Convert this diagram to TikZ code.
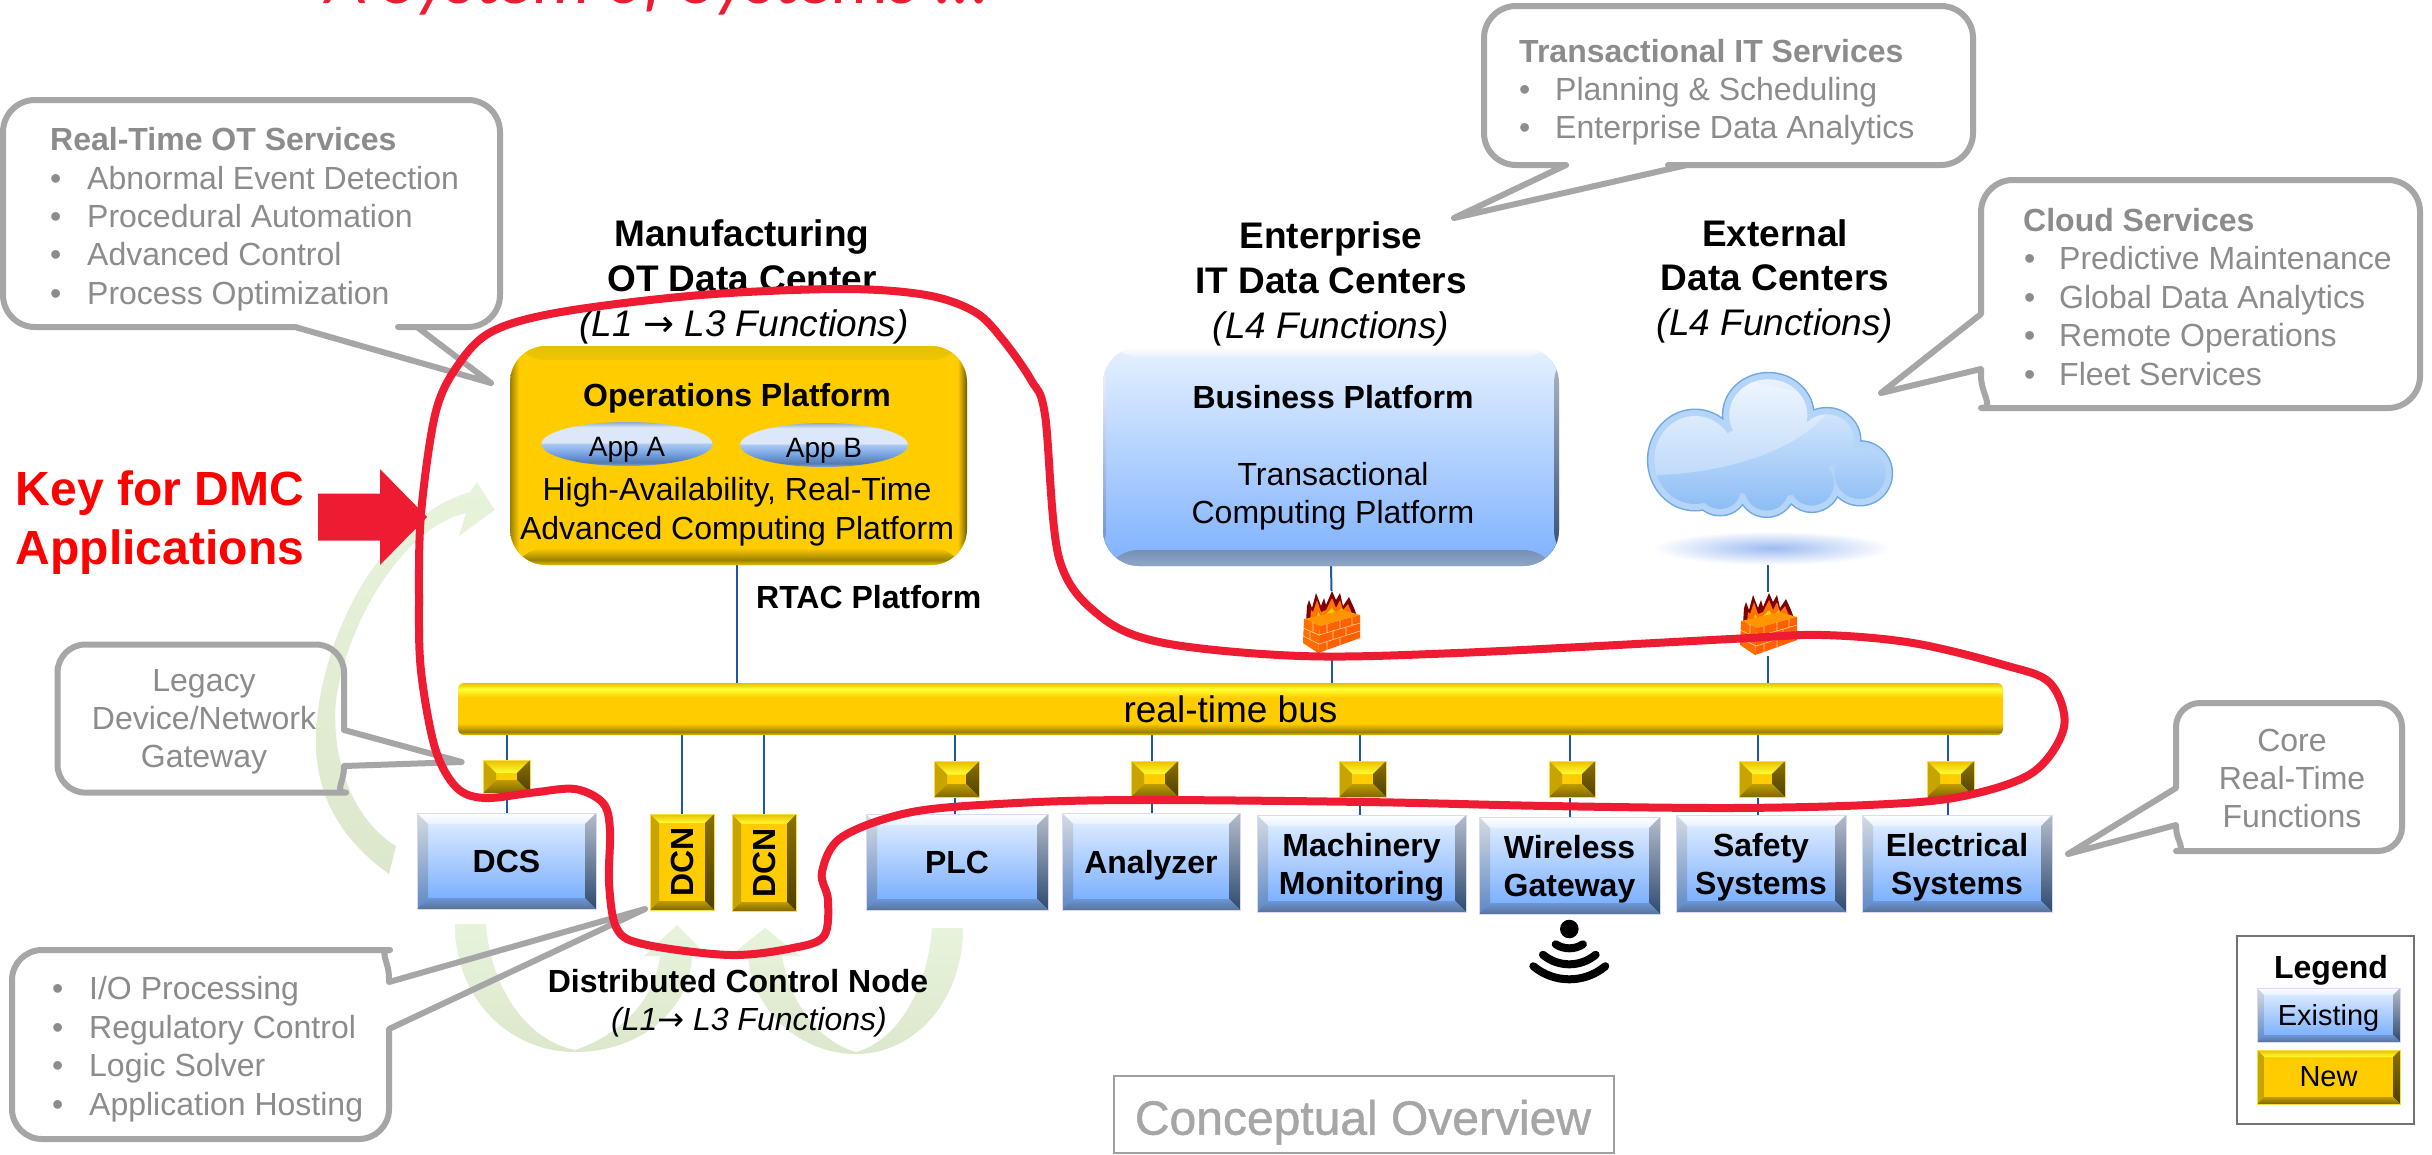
\documentclass[tikz,border=0pt]{standalone}
\usepackage{fontspec}
\setmainfont{Liberation Sans}
\newfontfamily\arwfont{DejaVu Sans}
\newfontfamily\titlefont{Carlito}
\newfontfamily\overfont[FakeBold=1]{Liberation Sans}
\usetikzlibrary{calc,shapes.geometric}
\definecolor{redline}{HTML}{EE1C33}
\definecolor{calloutgray}{HTML}{A6A6A6}
\definecolor{calltext}{HTML}{8C8C8C}
\definecolor{wireblue}{HTML}{1F55A8}
\definecolor{yel}{HTML}{FFCC00}
\definecolor{yelbright}{HTML}{FFFF33}
\definecolor{yeledge}{HTML}{E8BE00}
\definecolor{yeldark}{HTML}{9C8000}
\definecolor{yelbrown}{HTML}{6E5A00}
\definecolor{yelleft}{HTML}{C8A400}
\definecolor{yelrta}{HTML}{8A7000}
\definecolor{yelrtb}{HTML}{4E4000}
\definecolor{yelbta}{HTML}{C09C00}
\definecolor{yelbtb}{HTML}{7F6800}
\definecolor{bluetop}{HTML}{E6F1FF}
\definecolor{bluebot}{HTML}{6FA8FE}
\definecolor{bevlt}{HTML}{D5DAE2}
\definecolor{bevlb}{HTML}{5E88C4}
\definecolor{bevrt}{HTML}{B4BCCB}
\definecolor{bevrb}{HTML}{2E4A70}
\definecolor{bevbt}{HTML}{6A96D8}
\definecolor{bevbb}{HTML}{5A7296}
\definecolor{greenarr}{HTML}{E2ECD5}
\definecolor{greentop}{HTML}{E8F3DC}
\definecolor{greenbot}{HTML}{DCE7CC}
\definecolor{cloudline}{HTML}{70A8E4}
\definecolor{cloudrim}{HTML}{B5D5F8}
\definecolor{cloudt}{HTML}{E8F2FF}
\definecolor{cloudm}{HTML}{CFE3FB}
\definecolor{cloudb}{HTML}{8CBDF5}
\definecolor{shadowblue}{HTML}{9DBBF2}
\pgfdeclareverticalshading{busshade}{100bp}{color(0bp)=(yeledge); color(25bp)=(yeledge); color(28bp)=(yeldark); color(36bp)=(yel); color(61bp)=(yel); color(69bp)=(yelbright); color(75bp)=(yeledge); color(100bp)=(yeledge)}
\pgfdeclarehorizontalshading{yelside}{100bp}{color(0bp)=(yeldark); color(25bp)=(yeldark); color(26bp)=(yel); color(74bp)=(yel); color(75bp)=(yelbrown); color(100bp)=(yelbrown)}
\pgfdeclareverticalshading{yeltop}{100bp}{color(0bp)=(yel); color(25bp)=(yel); color(52bp)=(yelbright); color(75bp)=(yeledge); color(100bp)=(yeledge)}
\pgfdeclareverticalshading{yelbot}{100bp}{color(0bp)=(yeledge); color(25bp)=(yeledge); color(40bp)=(yeldark); color(75bp)=(yel); color(100bp)=(yel)}
\definecolor{bluee1}{HTML}{8FA6C8}
\definecolor{bluee2}{HTML}{4E6C9A}
\definecolor{bluee3}{HTML}{7DB0FF}
\pgfdeclareverticalshading{blubot}{100bp}{color(0bp)=(bluee1); color(25bp)=(bluee1); color(34bp)=(bluee2); color(75bp)=(bluee3); color(100bp)=(bluee3)}
\definecolor{ap0}{HTML}{8FA9CF}
\definecolor{ap1}{HTML}{527AB2}
\definecolor{ap2}{HTML}{7BA6E4}
\definecolor{ap3}{HTML}{A9C8F2}
\definecolor{ap4}{HTML}{DCE8FA}
\pgfdeclareverticalshading{appshade}{100bp}{color(0bp)=(ap0); color(25bp)=(ap0); color(29bp)=(ap1); color(40bp)=(ap2); color(50bp)=(ap3); color(52bp)=(ap4); color(69bp)=(ap4); color(75bp)=(ap0); color(100bp)=(ap0)}
\pgfdeclarelayer{bg}
\pgfdeclarelayer{wires}
\pgfdeclarelayer{top}
\pgfsetlayers{bg,wires,main,top}
% bevels, drawn inside a node's path picture
\newcommand\bevelset[9]{%
  \coordinate (NW) at (path picture bounding box.north west);
  \coordinate (NE) at (path picture bounding box.north east);
  \coordinate (SW) at (path picture bounding box.south west);
  \coordinate (SE) at (path picture bounding box.south east);
  \coordinate (iNW) at ($(NW)+(#1pt,-#1pt)$);
  \coordinate (iNE) at ($(NE)+(-#1pt,-#1pt)$);
  \coordinate (iSW) at ($(SW)+(#1pt,#1pt)$);
  \coordinate (iSE) at ($(SE)+(-#1pt,#1pt)$);
  \shade[top color=#2,bottom color=#3] (NW)--(NE)--(iNE)--(iNW)--cycle;
  \shade[top color=#4,bottom color=#5] (NW)--(iNW)--(iSW)--(SW)--cycle;
  \shade[top color=#6,bottom color=#7] (NE)--(iNE)--(iSE)--(SE)--cycle;
  \shade[top color=#8,bottom color=#9] (iSW)--(iSE)--(SE)--(SW)--cycle;
}
\tikzset{
  bluebox/.style={rectangle,inner sep=0pt,align=center,draw=blue!15!white,line width=1pt,
    top color=bluetop,bottom color=bluebot,font=\fontsize{32}{38}\selectfont\bfseries,text depth=0pt,
    path picture={\bevelset{#1}{white}{bluetop}{bevlt}{bevlb}{bevrt}{bevrb}{bevbt}{bevbb}}},
  yellowbox/.style={rectangle,inner sep=0pt,align=center,draw=yel!70!white,line width=1pt,
    fill=yel,font=\fontsize{32}{38}\selectfont\bfseries,
    path picture={\bevelset{#1}{yeledge}{yelbright}{yelleft}{yelleft}{yelrta}{yelrtb}{yelbta}{yelbtb}}},
  wire/.style={draw=wireblue,line width=2pt},
  callout/.style={draw=calloutgray,line width=6pt,line join=round},
  redloop/.style={draw=redline,line width=8pt,line cap=round,line join=round},
  greenfill/.style={top color=greentop,bottom color=greenbot,draw=none},
  sm/.style={inner sep=0pt,anchor=mid west,yshift=-9pt,text=calltext,font=\fontsize{32}{38}\selectfont},
  smb/.style={sm,font=\fontsize{32}{38}\selectfont\bfseries},
  ctr/.style={inner sep=0pt,anchor=center,text=calltext,font=\fontsize{32}{38}\selectfont},
  head/.style={inner sep=0pt,anchor=mid,yshift=-11pt,text=black,font=\fontsize{37}{44}\selectfont\bfseries},
  headi/.style={inner sep=0pt,anchor=mid,yshift=-11pt,text=black,font=\fontsize{37}{44}\selectfont\itshape},
  plain/.style={inner sep=0pt,anchor=mid,yshift=-9pt,text=black,font=\fontsize{32}{38}\selectfont},
  plainb/.style={plain,font=\fontsize{32}{38}\selectfont\bfseries},
  keytext/.style={inner sep=0pt,anchor=mid,yshift=-16pt,text=red,font=\fontsize{48}{58}\selectfont\bfseries},
  fwnode/.style={rectangle,inner sep=0pt,minimum width=57pt,minimum height=63pt,draw=none},
  appell/.style={ellipse,inner sep=0pt,shading=appshade,draw=none},
}
\newcommand\BX[7]{%
  \pgfmathsetmacro\bxw{#4-#2}\pgfmathsetmacro\bxh{#5-#3}%
  \pgfmathsetmacro\bxx{(#2+#4)/2}\pgfmathsetmacro\bxy{(#3+#5)/2}%
  \node[#6,minimum width=\bxw pt,minimum height=\bxh pt] (#1) at (\bxx,\bxy) {#7};}
\newcommand\BUL[5]{%
  \node[sm] (#1b) at (#2,#4) {•};
  \node[sm] (#1) at (#3,#4) {#5};}
\newcommand\WIREVIA[3]{%
  \draw[wire] ([xshift=#3pt]#1.north |- bus.south) -- ([xshift=#3pt]#1.south |- #2.north);}
\newcommand\FIREWALL[2]{%
  \begin{scope}[shift={(#1,#2)}]
    \fill[gray!12] (40,102) -- (84,87) -- (78,84) -- cycle;
    \fill[black!10!red!55!black] (26,72) -- (27,56) -- (29,50) -- (32,58) -- (36,43) -- (41,56) -- (44,48) -- (46,55) -- (52,41) -- (56,50) -- (60,43) -- (63,56) -- (69,47) -- (74,58) -- (77,66) -- cycle;
    \fill[orange!90!red] (30,72) -- (31,60) -- (33,62) -- (37,50) -- (41,62) -- (46,60) -- (52,48) -- (56,58) -- (60,50) -- (63,60) -- (68,54) -- (73,66) -- cycle;
    \fill[yellow!70!orange] (36,72) -- (38,62) -- (42,68) -- (52,58) -- (56,64) -- (62,58) -- (66,68) -- cycle;
    \fill[orange!70!yellow!90!red] (24,69) -- (63,60) -- (80,65) -- (40,76) -- cycle;
    \fill[orange!85!red] (24,69) -- (40,76) -- (38,103) -- (23,93) -- cycle;
    \fill[orange!75!red] (40,76) -- (80,65) -- (80,88) -- (38,103) -- cycle;
    \draw[orange!35!white,line width=.6pt] (23,78) -- (39,85) -- (80,73) (23,86) -- (39,94) -- (80,81)
      (47,74) -- (47,83) (60,70) -- (60,79) (72,67) -- (72,75) (53,80) -- (53,89) (66,77) -- (66,85)
      (33,72) -- (33,81) (30,82) -- (30,90) (47,92) -- (47,100) (60,88) -- (60,95);
  \end{scope}}
\newcommand\CLOUDPATH[1]{%
  (1768.3,415) ellipse [x radius=45-#1,y radius=41.7-#1]
  (1695,460) ellipse [x radius=46.7-#1,y radius=50-#1]
  (1826.7,440) ellipse [x radius=33.3-#1,y radius=31.7-#1]
  (1860,473.3) ellipse [x radius=31.7-#1,y radius=31.7-#1]
  (1766.7,488.3) ellipse [x radius=28.3-#1,y radius=28.3-#1]
  (1811.7,483.3) ellipse [x radius=28.3-#1,y radius=28.3-#1]
  (1720,490) ellipse [x radius=26.7-#1,y radius=25-#1]
  (1770,460) ellipse [x radius=66.7-#1,y radius=43.3-#1]}
\begin{document}
\begin{tikzpicture}[x=1pt,y=-1pt]
\useasboundingbox (0,0) rectangle (2432,1154);

% title (cropped by the page)
\node[inner sep=0pt,anchor=base west,text=redline,font=\fontsize{72.5}{80}\selectfont\titlefont\itshape] (title) at (325,3) {A System of Systems ...};

% green process arrows
\begin{pgfonlayer}{bg}
\fill[white] (0,0) rectangle (2432,1154);
\shade[greenfill] (389,874) .. controls (335,835) and (316,790) .. (316,741) .. controls (316,650) and (375,520) .. (470,492) -- (477,482) -- (494.6,510) -- (459,536) -- (466,513) .. controls (410,525) and (350,610) .. (336,700) .. controls (330,770) and (360,825) .. (396,846) -- cycle;
\shade[greenfill] (455,924) -- (486,924) .. controls (490,985) and (525,1040) .. (575,1050) .. controls (620,1035) and (655,1000) .. (660,956) -- (644,956) -- (677,925) -- (708,956) -- (692,956) .. controls (690,1010) and (640,1052) .. (575,1052) .. controls (510,1052) and (455,1000) .. (455,924) -- cycle;
\shade[greenfill] (963,928) -- (932,928) .. controls (928,985) and (900,1040) .. (856,1052) .. controls (815,1040) and (790,1000) .. (782,956) -- (800,956) -- (765,928) -- (730,956) -- (748,956) .. controls (752,1010) and (800,1054) .. (856,1054) .. controls (915,1054) and (963,1000) .. (963,928) -- cycle;
\end{pgfonlayer}

% callouts
\draw[callout] (250,100) [rounded corners=32pt] -- (500,100) -- (500,327) -- (430,327) [sharp corners] -- (417,327) -- (491,383) -- (295,327) -- (230,327) [rounded corners=32pt] -- (3,327) -- (3,100) -- cycle;
\draw[callout] (1700,6) [rounded corners=32pt] -- (1973,6) -- (1973,165) -- (1700,165) [sharp corners] -- (1687,165) -- (1454,218) -- (1566,165) -- (1552,165) [rounded corners=32pt] -- (1484,165) -- (1484,6) -- cycle;
\draw[callout] (2013,408) .. controls (1995,408) and (1981,394) .. (1981,376) -- (1981,369) -- (1881,393) -- (1981,314) -- (1981,250) [rounded corners=32pt] -- (1981,180) -- (2420,180) -- (2420,408) -- cycle;
\draw[callout] (318,792.6) .. controls (334,792.6) and (344,782) .. (344,768) -- (344,766) -- (461.6,762) -- (344,730) -- (344,702) [rounded corners=28pt] -- (344,644.5) -- (57.5,644.5) -- (57.5,792.6) -- cycle;
\draw[callout] (360,950) .. controls (378,950) and (389,961) .. (389,978) -- (389,982) -- (645,909) -- (389,1029) -- (389,1075) [rounded corners=30pt] -- (389,1139) -- (12,1139) -- (12,950) -- cycle;
\draw[callout] (2200,851) .. controls (2187,851) and (2176,840) .. (2176,827) -- (2176,825) -- (2068,854) -- (2176,788) -- (2176,755) [rounded corners=24pt] -- (2176,703) -- (2402,703) -- (2402,851) -- cycle;

% callout texts
\node[smb] (rtot) at (50,139) {Real-Time OT Services};
\BUL{rt1}{50}{87}{178}{Abnormal Event Detection}
\BUL{rt2}{50}{87}{216}{Procedural Automation}
\BUL{rt3}{50}{87}{254}{Advanced Control}
\BUL{rt4}{50}{87}{293}{Process Optimization}
\node[smb] (trit) at (1519,51) {Transactional IT Services};
\BUL{tr1}{1519}{1555}{89}{Planning \& Scheduling}
\BUL{tr2}{1519}{1555}{127}{Enterprise Data Analytics}
\node[smb] (cs) at (2023,220) {Cloud Services};
\BUL{cs1}{2024}{2059}{258}{Predictive Maintenance}
\BUL{cs2}{2024}{2059}{297}{Global Data Analytics}
\BUL{cs3}{2024}{2059}{335}{Remote Operations}
\BUL{cs4}{2024}{2059}{374}{Fleet Services}
\node[ctr,align=center] (legacy) at (204,722) {Legacy\\[0pt]Device/Network\\[0pt]Gateway};
\node[ctr,align=center] (corert) at (2292,778) {Core\\[0pt]Real-Time\\[0pt]Functions};
\BUL{io1}{52}{89}{988}{I/O Processing}
\BUL{io2}{52}{89}{1027}{Regulatory Control}
\BUL{io3}{52}{89}{1065}{Logic Solver}
\BUL{io4}{52}{89}{1103.5}{Application Hosting}

% headings
\node[head] (mf1) at (742,233) {Manufacturing};
\node[head] (mf2) at (742,278) {OT Data Center};
\node[headi] (mf3) at (744,323) {(L1 {\arwfont→} L3 Functions)};
\node[head] (en1) at (1331,235) {Enterprise};
\node[head] (en2) at (1331,280) {IT Data Centers};
\node[headi] (en3) at (1331,325) {(L4 Functions)};
\node[head] (ex1) at (1775,233) {External};
\node[head] (ex2) at (1775,277) {Data Centers};
\node[headi] (ex3) at (1775,322) {(L4 Functions)};

% platforms
\node[rectangle,rounded corners=36pt,minimum width=457pt,minimum height=219pt,inner sep=0pt,shading=yelside,
  path picture={
    \shade[shading=yeltop] (path picture bounding box.north west) rectangle ([yshift=-14pt]path picture bounding box.north east);
    \shade[shading=yelbot] ([yshift=17pt]path picture bounding box.south west) rectangle (path picture bounding box.south east);}] (ops) at (738.5,455.5) {};
\node[plainb] (opst) at (737,395) {Operations Platform};
\node[appell,minimum width=171pt,minimum height=44pt] (appa) at (627,444) {};
\node[plain,font=\fontsize{28}{32}\selectfont] (appat) at (627,445) {App A};
\node[appell,minimum width=168pt,minimum height=44pt] (appb) at (824,445) {};
\node[plain,font=\fontsize{28}{32}\selectfont] (appbt) at (824,446) {App B};
\node[plain] (opsa) at (737,489) {High-Availability, Real-Time};
\node[plain] (opsb) at (737,528) {Advanced Computing Platform};

\node[rectangle,rounded corners=36pt,minimum width=456pt,minimum height=219pt,inner sep=0pt,top color=bluetop,bottom color=bluebot!90!white,
  path picture={
    \shade[shading=blubot] ([yshift=16pt]path picture bounding box.south west) rectangle (path picture bounding box.south east);
    \shade[top color=white,bottom color=bluetop] (path picture bounding box.north west) rectangle ([yshift=-10pt]path picture bounding box.north east);
    \shade[top color=bevrt,bottom color=bevrb] ([xshift=-5pt]path picture bounding box.north east) rectangle (path picture bounding box.south east);
    \shade[top color=white,bottom color=bevlb] (path picture bounding box.north west) rectangle ([xshift=3pt]path picture bounding box.south west);
    }] (biz) at (1331,456.5) {};
\node[plainb] (bizt) at (1333,397) {Business Platform};
\node[plain] (biz1) at (1333,474) {Transactional};
\node[plain] (biz2) at (1333,512) {Computing Platform};

% cloud
\path[draw=cloudline,line width=3pt] \CLOUDPATH{0};
\fill[cloudrim] \CLOUDPATH{0};
\shade[top color=cloudt,middle color=cloudm,bottom color=cloudb] \CLOUDPATH{6};
\begin{scope}
\clip \CLOUDPATH{6};
\fill[white,opacity=.3] (1650,475) .. controls (1720,475) and (1810,450) .. (1835,400) -- (1700,370) -- (1640,420) -- cycle;
\end{scope}
\node[ellipse,inner sep=0pt,minimum width=240pt,minimum height=34pt,inner color=shadowblue,outer color=white,draw=none] (cloudshade) at (1772,548) {};

% firewalls
\node[fwnode] (fw1) at (1331.5,622.5) {};
\node[fwnode] (fw2) at (1768,624) {};
\FIREWALL{1280}{550}
\FIREWALL{1717}{552}

% bus and lower row
\BX{bus}{458}{683}{2003}{735}{rectangle,rounded corners=6pt,inner sep=0pt,shading=busshade,font=\fontsize{37}{44}\selectfont}{real-time bus}

\BX{dcs}{417}{813}{596}{909}{bluebox=11}{DCS}
\BX{dcna}{650}{814}{714}{910}{yellowbox=9}{\rotatebox{90}{DCN}}
\BX{dcnb}{732}{814.5}{796}{911}{yellowbox=9}{\rotatebox{90}{DCN}}
\BX{plc}{866}{814}{1048}{910}{bluebox=11}{PLC}
\BX{ana}{1062}{813}{1240}{910}{bluebox=11}{Analyzer}
\BX{mach}{1257}{815}{1466}{912}{bluebox=11}{Machinery\\Monitoring}
\BX{wgw}{1479}{817}{1660}{914}{bluebox=11}{Wireless\\Gateway}
\BX{safe}{1676}{815}{1846}{912}{bluebox=11}{Safety\\Systems}
\BX{elec}{1862}{815}{2052}{912}{bluebox=11}{Electrical\\Systems}

\BX{brdcs}{483}{760}{530}{793}{yellowbox=13}{}
\BX{brplc}{934}{761.5}{979}{797}{yellowbox=13}{}
\BX{brana}{1131}{761}{1178}{797}{yellowbox=13}{}
\BX{brmach}{1339}{761}{1386}{797}{yellowbox=13}{}
\BX{brwgw}{1549}{761}{1595}{797}{yellowbox=13}{}
\BX{brsafe}{1739}{761}{1785}{797}{yellowbox=13}{}
\BX{brelec}{1927}{761}{1974}{797}{yellowbox=13}{}

% connectors
\begin{pgfonlayer}{wires}
\draw[wire] (ops.south -| opst) -- (bus.north -| opst);
\draw[wire] (biz.south) -- (fw1.north);
\draw[wire] (fw1.south) -- (bus.north -| fw1);
\draw[wire] (cloudshade.south -| fw2) -- (fw2.north);
\draw[wire] (fw2.south) -- (bus.north -| fw2);
\draw[wire] (bus.south -| dcna) -- (dcna.north);
\draw[wire] (bus.south -| dcnb) -- (dcnb.north);
\WIREVIA{brdcs}{dcs}{0}
\WIREVIA{brplc}{plc}{-1.5}
\WIREVIA{brana}{ana}{-3}
\WIREVIA{brmach}{mach}{-2.5}
\WIREVIA{brwgw}{wgw}{-2}
\WIREVIA{brsafe}{safe}{-4}
\WIREVIA{brelec}{elec}{-3}
\end{pgfonlayer}

% wifi icon below the gateway
\fill[black] (1569.3,929) circle [radius=9.3];
\draw[black,line width=8pt,line cap=round] ({1569.3+25*cos(123)},{923.3+25*sin(123)}) arc [start angle=123,end angle=57,radius=25];
\draw[black,line width=8pt,line cap=round] ({1569.3+41*cos(130)},{923.3+41*sin(130)}) arc [start angle=130,end angle=50,radius=41];
\draw[black,line width=8pt,line cap=round] ({1569.3+56*cos(130)},{923.3+56*sin(130)}) arc [start angle=130,end angle=50,radius=56];

% plain labels
\node[plainb,anchor=mid west] (rtac) at (756,597) {RTAC Platform};
\node[plainb] (dcnt) at (738,981) {Distributed Control Node};
\node[plain,font=\fontsize{32}{38}\selectfont\itshape] (dcnf) at (749,1019) {(L1{\arwfont→} L3 Functions)};

% key for DMC
\node[keytext] (key1) at (160,487) {Key for DMC};
\node[keytext] (key2) at (160,546) {Applications};
\fill[redline] (318,493.5) -- (380,493.5) -- (380,469) -- (427,517) -- (380,565) -- (380,540.5) -- (318,540.5) -- cycle;

% legend
\draw[draw=gray!90!black,line width=2pt] (2237,936) rectangle (2414,1124);
\node[plainb] (legt) at (2331,967) {Legend};
\BX{legold}{2257}{988}{2400}{1042}{bluebox=7,font=\fontsize{29}{34}\selectfont}{Existing}
\BX{legnew}{2257}{1050}{2400}{1104}{yellowbox=7,font=\fontsize{29}{34}\selectfont}{New}

% overview stamp
\draw[draw=gray!75!white,line width=2.5pt] (1114,1076) rectangle (1614,1153);
\node[inner sep=0pt,anchor=mid,yshift=-15pt,text=calloutgray,font=\fontsize{48}{58}\selectfont\overfont] (over) at (1363,1117) {Conceptual Overview};

% red boundary
\begin{pgfonlayer}{top}
\draw[redloop] plot[smooth cycle,tension=.55] coordinates {
 (842,289) (701,295) (561,312) (491,332) (456,368) (435,415) (421,514) (419,600) (421,671) (435,748) (456,787) (484,798) (533,792.6) (575,789) (603,803) (610,830) (609,883) (617,929) (645,944.5) (730,955) (793,948) (824,936) (828,900) (822,872) (842,837) (912,812) (1017,803) (1137,800) (1365,802) (1548,806) (1730,808) (1868,805) (1959,797) (2032,773) (2064,727) (2050,683) (2004,665) (1913,643) (1822,635) (1731,639) (1457,653) (1301,656) (1164,643) (1100,616) (1059,558) (1045,415) (1031,380) (1003,340) (975,312) (926,295)};
\end{pgfonlayer}
\end{tikzpicture}
\end{document}
